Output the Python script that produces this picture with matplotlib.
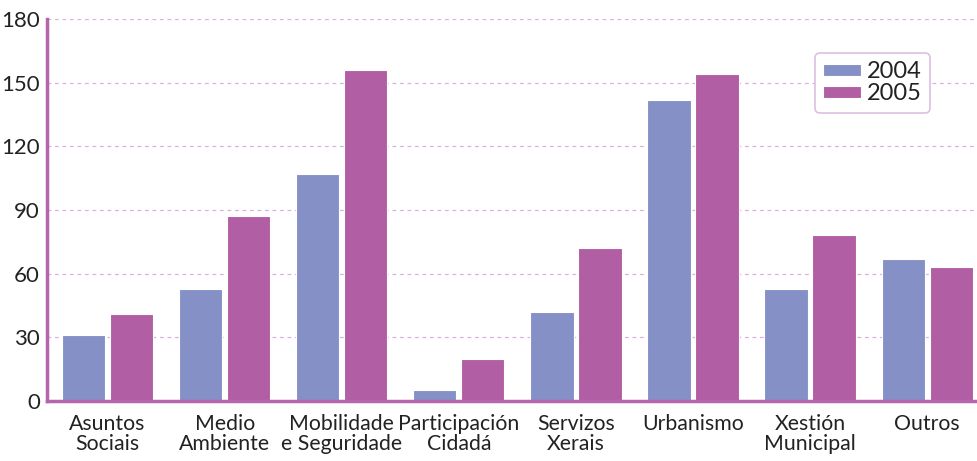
import numpy as np
import matplotlib.pyplot as plt

plt.rcParams['font.family'] = ['Lato', 'DejaVu Sans']

categories = ['Asuntos\nSociais', 'Medio\nAmbiente', 'Mobilidade\ne Seguridade',
              'Participación\nCidadá', 'Servizos\nXerais', 'Urbanismo',
              'Xestión\nMunicipal', 'Outros']
vals_2004 = [31, 53, 107, 5, 42, 142, 53, 67]
vals_2005 = [41, 87, 156, 20, 72, 154, 78, 63]
yticks = [0, 30, 60, 90, 120, 150, 180]

c2004 = '#8591c6'
c2005 = '#b15ea4'
spine_col = '#b565ad'
grid_col = '#d9b0de'

fig = plt.figure(figsize=(9.78, 4.61), dpi=100)
ax = fig.add_axes([47 / 978, 60 / 461, 931 / 978, 382 / 461])

x = np.arange(len(categories))
w = 0.37
ax.bar(x - 0.205, vals_2004, w, color=c2004, edgecolor='white', linewidth=0.8,
       label='2004', zorder=3)
ax.bar(x + 0.205, vals_2005, w, color=c2005, edgecolor='white', linewidth=0.8,
       label='2005', zorder=3)

ax.set_xlim(-0.517, 7.434)
ax.set_ylim(0, 180)
ax.set_yticks(yticks)
ax.set_xticks(x)
ax.set_xticklabels(categories, fontsize=15.3, color='#222222', linespacing=1.0)
ax.tick_params(axis='both', length=0, labelsize=15.3, colors='#222222')
ax.tick_params(axis='y', labelsize=16, pad=5)
ax.tick_params(axis='x', pad=9)

ax.yaxis.grid(True, color=grid_col, linestyle=(0, (3, 3)), linewidth=0.9, zorder=0)
for s in ['top', 'right']:
    ax.spines[s].set_visible(False)
for s in ['left', 'bottom']:
    ax.spines[s].set_color(spine_col)
    ax.spines[s].set_linewidth(2.5)
    ax.spines[s].set_zorder(4)

leg = ax.legend(loc='upper left', bbox_to_anchor=(0.825, 0.911), fontsize=17,
                frameon=True, fancybox=True, handlelength=1.6, handleheight=0.45,
                handletextpad=0.25, borderpad=0.35, labelspacing=0.05,
                borderaxespad=0)
leg.get_frame().set_edgecolor('#dcc0e0')
leg.get_frame().set_linewidth(1.2)
leg.get_frame().set_alpha(1)
for t in leg.get_texts():
    t.set_color('#222222')

fig.savefig('out.png', dpi=100)
